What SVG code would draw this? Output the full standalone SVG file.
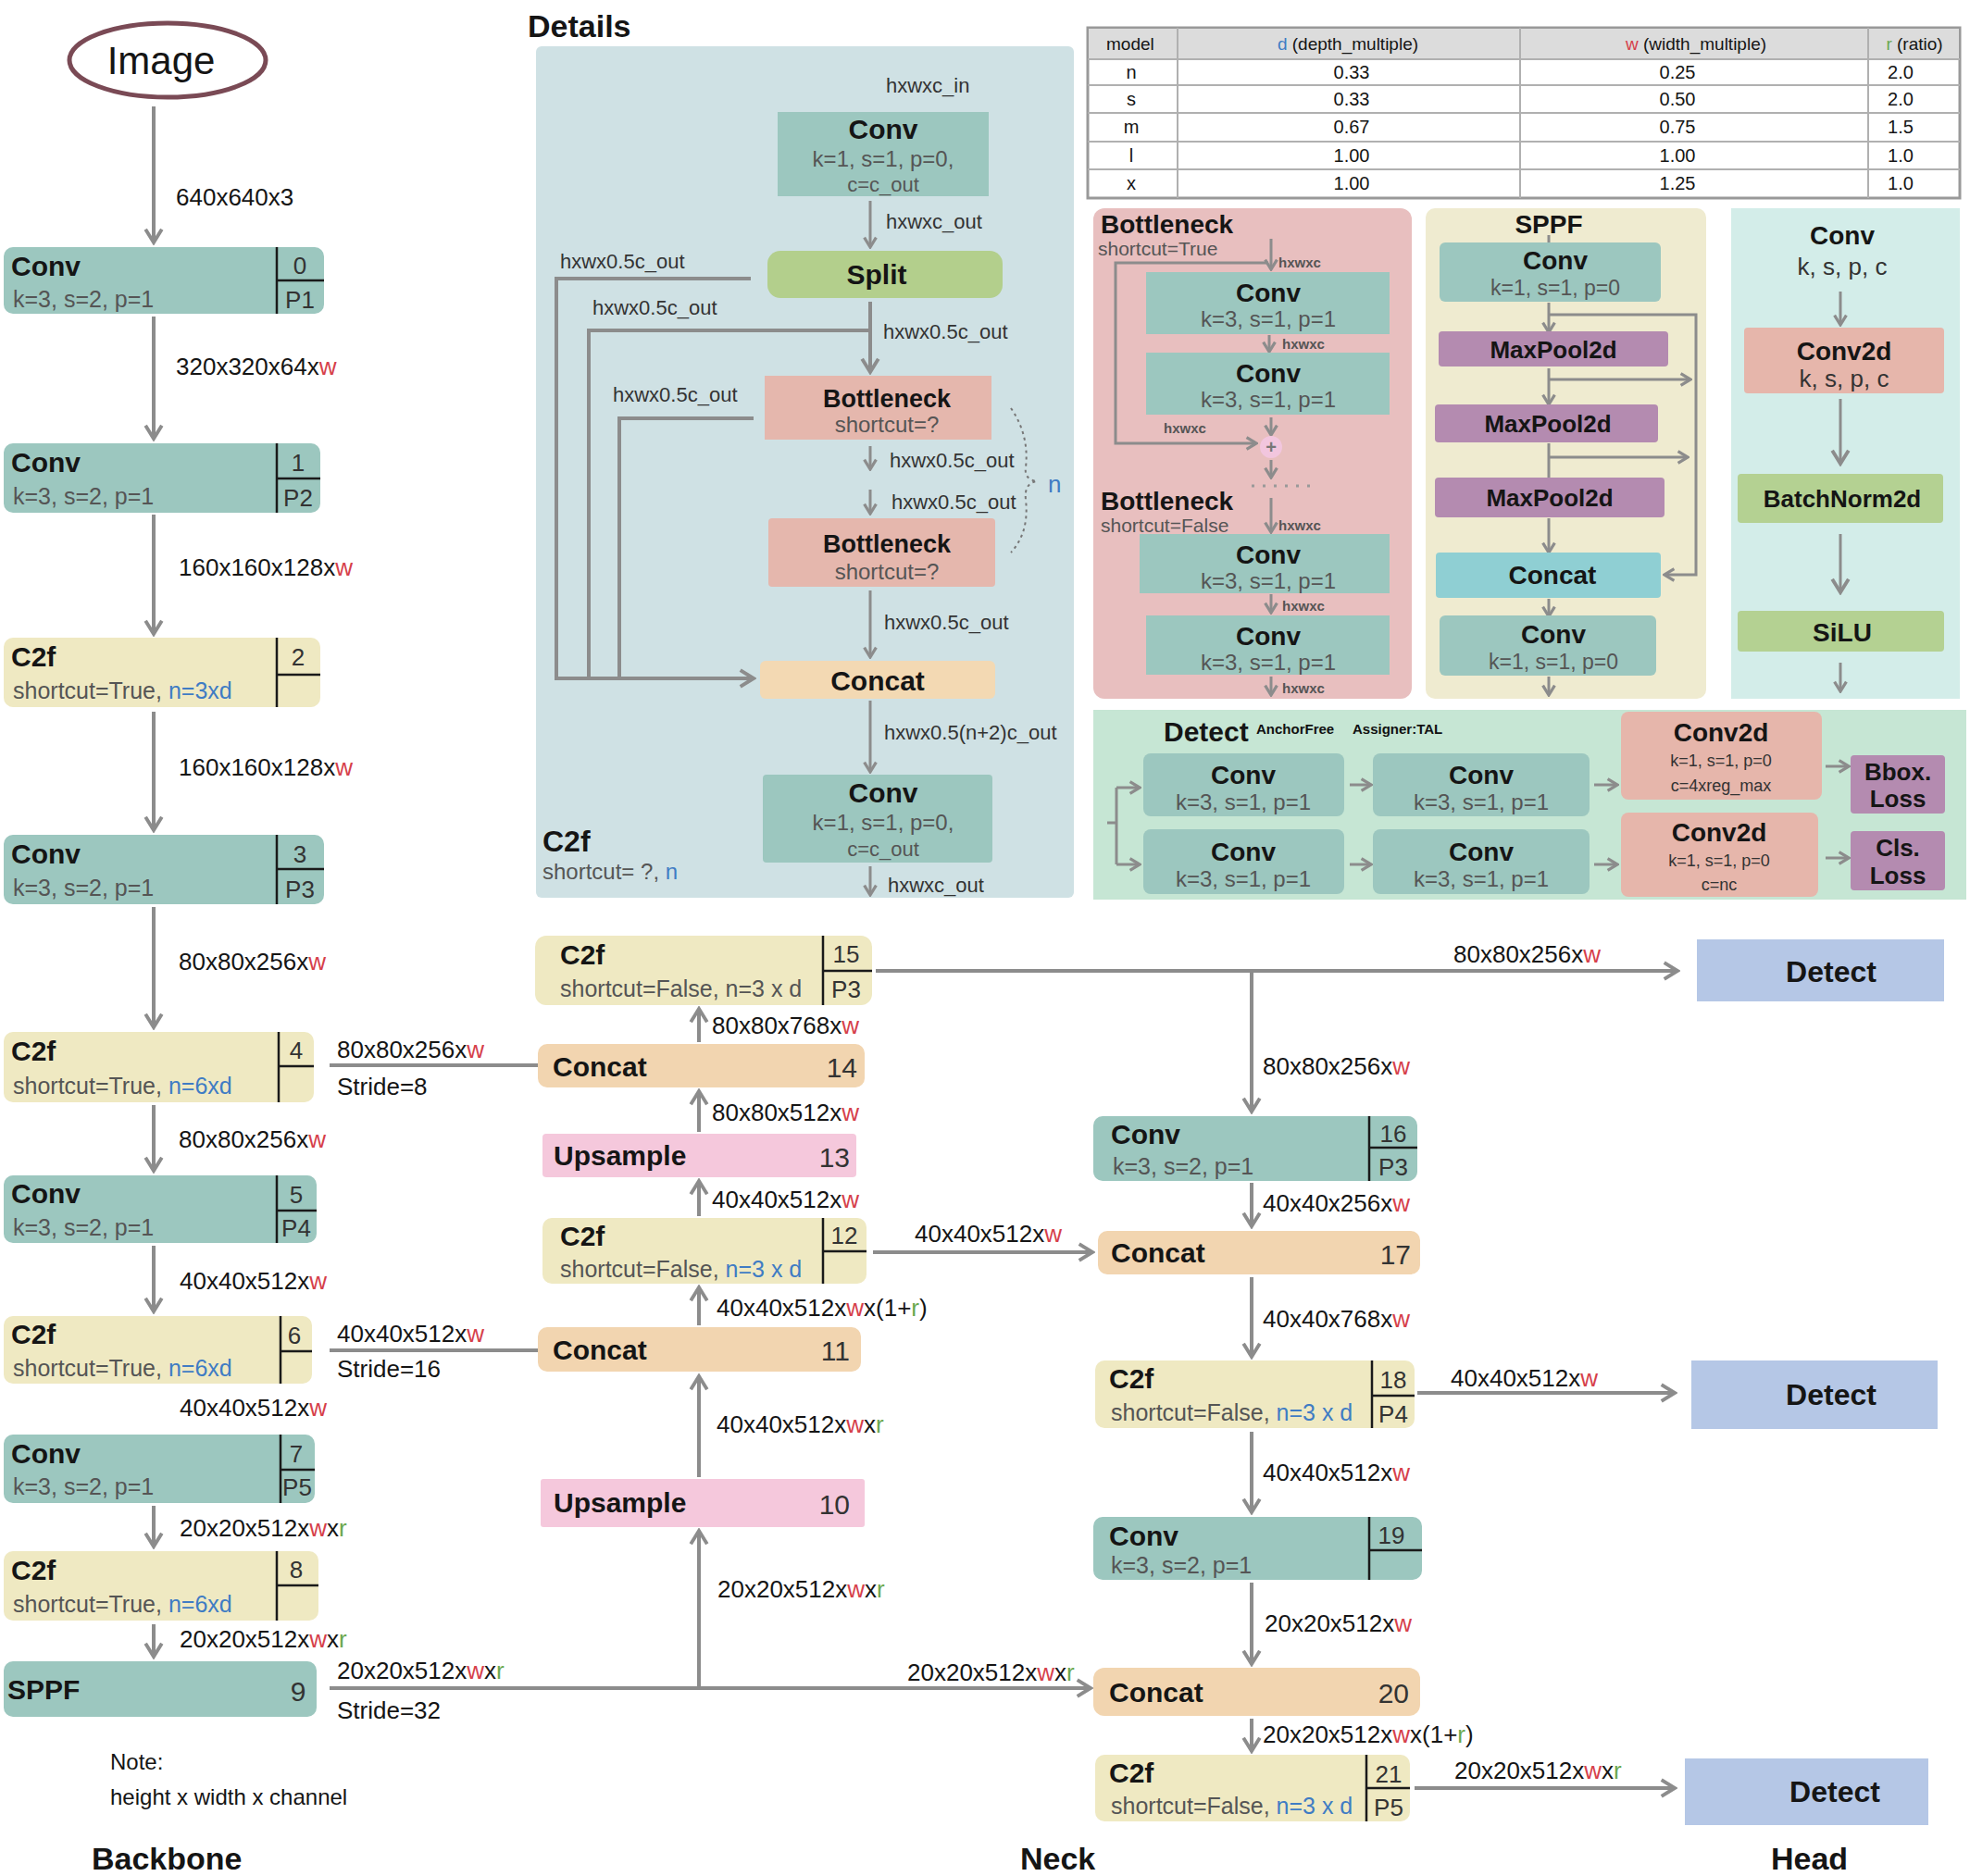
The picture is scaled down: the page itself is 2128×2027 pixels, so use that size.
<svg xmlns="http://www.w3.org/2000/svg" width="2128" height="2027" viewBox="0 0 2128 2027">
<style>
text{font-family:"Liberation Sans",Arial,sans-serif;fill:#151515}
.ti{font-weight:bold;font-size:30px}
.tc{text-anchor:middle}
.pa{fill:#555;font-size:25px}
.ix{fill:#333;font-size:26px;text-anchor:middle}
.ixe{fill:#333;font-size:30px;text-anchor:end}
.lb{font-size:26px}
.dl{font-size:22px;fill:#333}
.sm{font-size:15px;font-weight:bold;fill:#555}
.r{fill:#d6404a}.bl{fill:#3f7cc4}.g{fill:#6aa84f}
.ln{stroke:#8c8c8c;stroke-width:4;fill:none}
.lt{stroke:#8c8c8c;stroke-width:3;fill:none}
.dv{stroke:#1a1a1a;stroke-width:2.5}
.conv{fill:#9cc7bf}.c2f{fill:#efe9c2}.cat{fill:#f2d5b0}.ups{fill:#f5c8dc}.det{fill:#b5c7e6}
.sal{fill:#e6b6ab}.pur{fill:#b48bb0}.grn{fill:#b4d192}
</style>
<defs>
<marker id="ah" viewBox="0 0 20 20" refX="17" refY="10" markerWidth="22" markerHeight="22" markerUnits="userSpaceOnUse" orient="auto">
<path d="M4,2 L17,10 L4,18" fill="none" stroke="#8c8c8c" stroke-width="3.5"/>
</marker>
<marker id="as" viewBox="0 0 20 20" refX="17" refY="10" markerWidth="16" markerHeight="16" markerUnits="userSpaceOnUse" orient="auto">
<path d="M4,2 L17,10 L4,18" fill="none" stroke="#8c8c8c" stroke-width="4"/>
</marker>
</defs>
<rect width="2128" height="2027" fill="#ffffff"/>

<!-- ================= BACKBONE ================= -->
<g id="image">
<ellipse cx="181" cy="65" rx="106" ry="40" fill="none" stroke="#7a4a55" stroke-width="5"/>
<text x="174" y="80" class="tc" style="font-size:42px">Image</text>
</g>

<g id="b0"><rect x="4" y="267" width="346" height="72" rx="10" class="conv"/>
<line x1="299" y1="267" x2="299" y2="339" class="dv"/><line x1="299" y1="303" x2="350" y2="303" class="dv"/>
<text x="12" y="298" class="ti">Conv</text><text x="14" y="332" class="pa">k=3, s=2, p=1</text>
<text x="324" y="296" class="ix">0</text><text x="324" y="333" class="ix">P1</text></g>

<g id="b1"><rect x="4" y="479" width="342" height="75" rx="10" class="conv"/>
<line x1="299" y1="479" x2="299" y2="554" class="dv"/><line x1="299" y1="517" x2="346" y2="517" class="dv"/>
<text x="12" y="510" class="ti">Conv</text><text x="14" y="545" class="pa">k=3, s=2, p=1</text>
<text x="322" y="509" class="ix">1</text><text x="322" y="547" class="ix">P2</text></g>

<g id="b2"><rect x="4" y="689" width="342" height="75" rx="10" class="c2f"/>
<line x1="299" y1="689" x2="299" y2="764" class="dv"/><line x1="299" y1="729" x2="346" y2="729" class="dv"/>
<text x="12" y="720" class="ti">C2f</text><text x="14" y="755" class="pa">shortcut=True, <tspan class="bl">n=3xd</tspan></text>
<text x="322" y="719" class="ix">2</text></g>

<g id="b3"><rect x="4" y="902" width="346" height="75" rx="10" class="conv"/>
<line x1="299" y1="902" x2="299" y2="977" class="dv"/><line x1="299" y1="939" x2="350" y2="939" class="dv"/>
<text x="12" y="933" class="ti">Conv</text><text x="14" y="968" class="pa">k=3, s=2, p=1</text>
<text x="324" y="932" class="ix">3</text><text x="324" y="970" class="ix">P3</text></g>

<g id="b4"><rect x="4" y="1115" width="335" height="76" rx="10" class="c2f"/>
<line x1="301" y1="1115" x2="301" y2="1191" class="dv"/><line x1="301" y1="1152" x2="339" y2="1152" class="dv"/>
<text x="12" y="1146" class="ti">C2f</text><text x="14" y="1182" class="pa">shortcut=True, <tspan class="bl">n=6xd</tspan></text>
<text x="320" y="1144" class="ix">4</text></g>

<g id="b5"><rect x="4" y="1270" width="338" height="73" rx="10" class="conv"/>
<line x1="299" y1="1270" x2="299" y2="1343" class="dv"/><line x1="299" y1="1308" x2="342" y2="1308" class="dv"/>
<text x="12" y="1300" class="ti">Conv</text><text x="14" y="1335" class="pa">k=3, s=2, p=1</text>
<text x="320" y="1300" class="ix">5</text><text x="320" y="1336" class="ix">P4</text></g>

<g id="b6"><rect x="4" y="1422" width="333" height="73" rx="10" class="c2f"/>
<line x1="303" y1="1422" x2="303" y2="1495" class="dv"/><line x1="303" y1="1460" x2="337" y2="1460" class="dv"/>
<text x="12" y="1452" class="ti">C2f</text><text x="14" y="1487" class="pa">shortcut=True, <tspan class="bl">n=6xd</tspan></text>
<text x="318" y="1452" class="ix">6</text></g>

<g id="b7"><rect x="4" y="1550" width="336" height="74" rx="10" class="conv"/>
<line x1="303" y1="1550" x2="303" y2="1624" class="dv"/><line x1="303" y1="1588" x2="340" y2="1588" class="dv"/>
<text x="12" y="1581" class="ti">Conv</text><text x="14" y="1615" class="pa">k=3, s=2, p=1</text>
<text x="320" y="1580" class="ix">7</text><text x="321" y="1616" class="ix">P5</text></g>

<g id="b8"><rect x="4" y="1676" width="340" height="75" rx="10" class="c2f"/>
<line x1="299" y1="1676" x2="299" y2="1751" class="dv"/><line x1="299" y1="1713" x2="344" y2="1713" class="dv"/>
<text x="12" y="1707" class="ti">C2f</text><text x="14" y="1742" class="pa">shortcut=True, <tspan class="bl">n=6xd</tspan></text>
<text x="320" y="1705" class="ix">8</text></g>

<g id="b9"><rect x="4" y="1795" width="338" height="60" rx="10" class="conv"/>
<text x="8" y="1836" class="ti">SPPF</text><text x="322" y="1838" class="ix" style="font-size:30px">9</text></g>

<g id="notes">
<text x="119" y="1912" style="font-size:24px">Note:</text>
<text x="119" y="1950" style="font-size:24px">height x width x channel</text>
<text x="99" y="2020" style="font-size:34px;font-weight:900">Backbone</text>
<text x="1102" y="2020" style="font-size:34px;font-weight:900">Neck</text>
<text x="1913" y="2020" style="font-size:34px;font-weight:900">Head</text>
</g>

<!-- ================= NECK ================= -->
<g id="n15"><rect x="578" y="1011" width="364" height="75" rx="12" class="c2f"/>
<line x1="889" y1="1011" x2="889" y2="1086" class="dv"/><line x1="889" y1="1049" x2="942" y2="1049" class="dv"/>
<text x="605" y="1042" class="ti">C2f</text><text x="605" y="1077" class="pa">shortcut=False, n=3 x d</text>
<text x="914" y="1040" class="ix">15</text><text x="914" y="1078" class="ix">P3</text></g>

<g id="n14"><rect x="581" y="1128" width="353" height="47" rx="10" class="cat"/>
<text x="597" y="1163" class="ti">Concat</text><text x="926" y="1164" class="ixe">14</text></g>

<g id="n13"><rect x="586" y="1225" width="339" height="47" rx="4" class="ups"/>
<text x="598" y="1259" class="ti">Upsample</text><text x="918" y="1261" class="ixe">13</text></g>

<g id="n12"><rect x="586" y="1316" width="350" height="71" rx="10" class="c2f"/>
<line x1="889" y1="1316" x2="889" y2="1387" class="dv"/><line x1="889" y1="1352" x2="936" y2="1352" class="dv"/>
<text x="605" y="1346" class="ti">C2f</text><text x="605" y="1380" class="pa">shortcut=False, <tspan class="bl">n=3 x d</tspan></text>
<text x="912" y="1344" class="ix">12</text></g>

<g id="n11"><rect x="581" y="1434" width="349" height="48" rx="10" class="cat"/>
<text x="597" y="1469" class="ti">Concat</text><text x="918" y="1470" class="ixe">11</text></g>

<g id="n10"><rect x="584" y="1598" width="350" height="52" rx="3" class="ups"/>
<text x="598" y="1634" class="ti">Upsample</text><text x="918" y="1636" class="ixe">10</text></g>

<g id="n16"><rect x="1181" y="1206" width="350" height="70" rx="10" class="conv"/>
<line x1="1479" y1="1206" x2="1479" y2="1276" class="dv"/><line x1="1479" y1="1240" x2="1531" y2="1240" class="dv"/>
<text x="1200" y="1236" class="ti">Conv</text><text x="1202" y="1269" class="pa">k=3, s=2, p=1</text>
<text x="1505" y="1234" class="ix">16</text><text x="1505" y="1270" class="ix">P3</text></g>

<g id="n17"><rect x="1186" y="1330" width="348" height="47" rx="10" class="cat"/>
<text x="1200" y="1364" class="ti">Concat</text><text x="1524" y="1366" class="ixe">17</text></g>

<g id="n18"><rect x="1183" y="1470" width="345" height="73" rx="10" class="c2f"/>
<line x1="1482" y1="1470" x2="1482" y2="1543" class="dv"/><line x1="1482" y1="1508" x2="1528" y2="1508" class="dv"/>
<text x="1198" y="1500" class="ti">C2f</text><text x="1200" y="1535" class="pa">shortcut=False, <tspan class="bl">n=3 x d</tspan></text>
<text x="1505" y="1500" class="ix">18</text><text x="1505" y="1537" class="ix">P4</text></g>

<g id="n19"><rect x="1181" y="1639" width="355" height="68" rx="10" class="conv"/>
<line x1="1479" y1="1639" x2="1479" y2="1707" class="dv"/><line x1="1479" y1="1675" x2="1536" y2="1675" class="dv"/>
<text x="1198" y="1670" class="ti">Conv</text><text x="1200" y="1700" class="pa">k=3, s=2, p=1</text>
<text x="1503" y="1668" class="ix">19</text></g>

<g id="n20"><rect x="1181" y="1802" width="353" height="52" rx="12" class="cat"/>
<text x="1198" y="1839" class="ti">Concat</text><text x="1522" y="1840" class="ixe">20</text></g>

<g id="n21"><rect x="1183" y="1896" width="340" height="72" rx="10" class="c2f"/>
<line x1="1476" y1="1896" x2="1476" y2="1968" class="dv"/><line x1="1476" y1="1932" x2="1523" y2="1932" class="dv"/>
<text x="1198" y="1926" class="ti">C2f</text><text x="1200" y="1960" class="pa">shortcut=False, <tspan class="bl">n=3 x d</tspan></text>
<text x="1500" y="1926" class="ix">21</text><text x="1500" y="1962" class="ix">P5</text></g>

<g id="h1"><rect x="1833" y="1015" width="267" height="67" class="det"/><text x="1978" y="1061" class="ti tc" style="font-size:32px">Detect</text></g>
<g id="h2"><rect x="1827" y="1470" width="266" height="74" class="det"/><text x="1978" y="1518" class="ti tc" style="font-size:32px">Detect</text></g>
<g id="h3"><rect x="1820" y="1900" width="263" height="72" class="det"/><text x="1982" y="1947" class="ti tc" style="font-size:32px">Detect</text></g>

<!-- ================= CONNECTORS ================= -->
<g id="connectors">
<line x1="166" y1="115" x2="166" y2="262" class="ln" marker-end="url(#ah)"/>
<line x1="166" y1="342" x2="166" y2="474" class="ln" marker-end="url(#ah)"/>
<line x1="166" y1="556" x2="166" y2="685" class="ln" marker-end="url(#ah)"/>
<line x1="166" y1="769" x2="166" y2="897" class="ln" marker-end="url(#ah)"/>
<line x1="166" y1="980" x2="166" y2="1110" class="ln" marker-end="url(#ah)"/>
<line x1="166" y1="1194" x2="166" y2="1265" class="ln" marker-end="url(#ah)"/>
<line x1="166" y1="1346" x2="166" y2="1417" class="ln" marker-end="url(#ah)"/>
<line x1="166" y1="1627" x2="166" y2="1671" class="ln" marker-end="url(#ah)"/>
<line x1="166" y1="1755" x2="166" y2="1790" class="ln" marker-end="url(#ah)"/>
<line x1="356" y1="1151" x2="581" y2="1151" class="ln"/>
<line x1="356" y1="1459" x2="581" y2="1459" class="ln"/>
<line x1="356" y1="1824" x2="1178" y2="1824" class="ln" marker-end="url(#ah)"/>
<line x1="755" y1="1824" x2="755" y2="1654" class="ln" marker-end="url(#ah)"/>
<line x1="755" y1="1596" x2="755" y2="1487" class="ln" marker-end="url(#ah)"/>
<line x1="755" y1="1432" x2="755" y2="1391" class="ln" marker-end="url(#ah)"/>
<line x1="755" y1="1314" x2="755" y2="1276" class="ln" marker-end="url(#ah)"/>
<line x1="755" y1="1223" x2="755" y2="1179" class="ln" marker-end="url(#ah)"/>
<line x1="755" y1="1126" x2="755" y2="1090" class="ln" marker-end="url(#ah)"/>
<line x1="946" y1="1049" x2="1812" y2="1049" class="ln" marker-end="url(#ah)"/>
<line x1="1352" y1="1049" x2="1352" y2="1201" class="ln" marker-end="url(#ah)"/>
<line x1="943" y1="1353" x2="1180" y2="1353" class="ln" marker-end="url(#ah)"/>
<line x1="1352" y1="1278" x2="1352" y2="1325" class="ln" marker-end="url(#ah)"/>
<line x1="1352" y1="1380" x2="1352" y2="1466" class="ln" marker-end="url(#ah)"/>
<line x1="1531" y1="1505" x2="1809" y2="1505" class="ln" marker-end="url(#ah)"/>
<line x1="1352" y1="1547" x2="1352" y2="1634" class="ln" marker-end="url(#ah)"/>
<line x1="1352" y1="1710" x2="1352" y2="1798" class="ln" marker-end="url(#ah)"/>
<line x1="1352" y1="1857" x2="1352" y2="1892" class="ln" marker-end="url(#ah)"/>
<line x1="1528" y1="1932" x2="1809" y2="1932" class="ln" marker-end="url(#ah)"/>
</g>

<g id="edge-labels" class="lb">
<text x="190" y="222" class="lb">640x640x3</text>
<text x="190" y="405" class="lb">320x320x64x<tspan class="r">w</tspan></text>
<text x="193" y="622" class="lb">160x160x128x<tspan class="r">w</tspan></text>
<text x="193" y="838" class="lb">160x160x128x<tspan class="r">w</tspan></text>
<text x="193" y="1048" class="lb">80x80x256x<tspan class="r">w</tspan></text>
<text x="193" y="1240" class="lb">80x80x256x<tspan class="r">w</tspan></text>
<text x="194" y="1393" class="lb">40x40x512x<tspan class="r">w</tspan></text>
<text x="194" y="1530" class="lb">40x40x512x<tspan class="r">w</tspan></text>
<text x="194" y="1660" class="lb">20x20x512x<tspan class="r">w</tspan>x<tspan class="g">r</tspan></text>
<text x="194" y="1780" class="lb">20x20x512x<tspan class="r">w</tspan>x<tspan class="g">r</tspan></text>
<text x="364" y="1143" class="lb">80x80x256x<tspan class="r">w</tspan></text>
<text x="364" y="1183" class="lb">Stride=8</text>
<text x="364" y="1450" class="lb">40x40x512x<tspan class="r">w</tspan></text>
<text x="364" y="1488" class="lb">Stride=16</text>
<text x="364" y="1814" class="lb">20x20x512x<tspan class="r">w</tspan>x<tspan class="g">r</tspan></text>
<text x="364" y="1857" class="lb">Stride=32</text>
<text x="980" y="1816" class="lb">20x20x512x<tspan class="r">w</tspan>x<tspan class="g">r</tspan></text>
<text x="775" y="1726" class="lb">20x20x512x<tspan class="r">w</tspan>x<tspan class="g">r</tspan></text>
<text x="774" y="1548" class="lb">40x40x512x<tspan class="r">w</tspan>x<tspan class="g">r</tspan></text>
<text x="774" y="1422" class="lb">40x40x512x<tspan class="r">w</tspan>x(1+<tspan class="g">r</tspan>)</text>
<text x="769" y="1305" class="lb">40x40x512x<tspan class="r">w</tspan></text>
<text x="769" y="1211" class="lb">80x80x512x<tspan class="r">w</tspan></text>
<text x="769" y="1117" class="lb">80x80x768x<tspan class="r">w</tspan></text>
<text x="1570" y="1040" class="lb">80x80x256x<tspan class="r">w</tspan></text>
<text x="1364" y="1161" class="lb">80x80x256x<tspan class="r">w</tspan></text>
<text x="988" y="1342" class="lb">40x40x512x<tspan class="r">w</tspan></text>
<text x="1364" y="1309" class="lb">40x40x256x<tspan class="r">w</tspan></text>
<text x="1364" y="1434" class="lb">40x40x768x<tspan class="r">w</tspan></text>
<text x="1567" y="1498" class="lb">40x40x512x<tspan class="r">w</tspan></text>
<text x="1364" y="1600" class="lb">40x40x512x<tspan class="r">w</tspan></text>
<text x="1366" y="1763" class="lb">20x20x512x<tspan class="r">w</tspan></text>
<text x="1364" y="1883" class="lb">20x20x512x<tspan class="r">w</tspan>x(1+<tspan class="g">r</tspan>)</text>
<text x="1571" y="1922" class="lb">20x20x512x<tspan class="r">w</tspan>x<tspan class="g">r</tspan></text>
</g>

<!-- ================= DETAILS: C2f ================= -->
<g id="details-c2f">
<text x="570" y="40" style="font-size:34px;font-weight:bold">Details</text>
<rect x="579" y="50" width="581" height="920" rx="6" fill="#cfe1e4"/>
<text x="957" y="100" class="dl">hxwxc_in</text>
<rect x="840" y="121" width="228" height="91" class="conv"/>
<text x="954" y="150" class="ti tc">Conv</text>
<text x="954" y="180" class="tc" style="font-size:24px;fill:#555">k=1, s=1, p=0,</text>
<text x="954" y="207" class="tc" style="font-size:22px;fill:#555">c=c_out</text>
<line x1="940" y1="217" x2="940" y2="267" class="lt" marker-end="url(#as)"/>
<text x="957" y="247" class="dl">hxwxc_out</text>
<rect x="829" y="271" width="254" height="51" rx="14" fill="#b3cf8c"/>
<text x="947" y="307" class="ti tc">Split</text>
<path d="M811,301 H601 V733 H814" class="ln" marker-end="url(#ah)"/>
<text x="605" y="290" class="dl">hxwx0.5c_out</text>
<path d="M940,357 H636 V733" class="ln"/>
<text x="640" y="340" class="dl">hxwx0.5c_out</text>
<line x1="940" y1="326" x2="940" y2="402" class="ln" marker-end="url(#ah)"/>
<text x="954" y="366" class="dl">hxwx0.5c_out</text>
<rect x="826" y="406" width="245" height="69" fill="#e5b7ad"/>
<text x="958" y="440" class="ti tc" style="font-size:27px">Bottleneck</text>
<text x="958" y="467" class="tc" style="font-size:24px;fill:#555">shortcut=?</text>
<path d="M814,452 H669 V733" class="ln"/>
<text x="662" y="434" class="dl">hxwx0.5c_out</text>
<line x1="940" y1="482" x2="940" y2="507" class="lt" marker-end="url(#as)"/>
<text x="961" y="505" class="dl">hxwx0.5c_out</text>
<line x1="940" y1="529" x2="940" y2="555" class="lt" marker-end="url(#as)"/>
<text x="963" y="550" class="dl">hxwx0.5c_out</text>
<path d="M1092,441 Q1112,470 1108,505 Q1106,518 1120,520 Q1106,522 1108,540 Q1112,575 1092,597" fill="none" stroke="#777" stroke-width="2" stroke-dasharray="3,4"/>
<text x="1132" y="532" class="bl" style="font-size:26px">n</text>
<rect x="830" y="560" width="245" height="74" rx="4" fill="#e5b7ad"/>
<text x="958" y="597" class="ti tc" style="font-size:27px">Bottleneck</text>
<text x="958" y="626" class="tc" style="font-size:24px;fill:#555">shortcut=?</text>
<line x1="940" y1="638" x2="940" y2="710" class="lt" marker-end="url(#as)"/>
<text x="955" y="680" class="dl">hxwx0.5c_out</text>
<rect x="821" y="714" width="254" height="41" rx="6" fill="#f3d9b3"/>
<text x="948" y="746" class="ti tc">Concat</text>
<line x1="940" y1="757" x2="940" y2="834" class="lt" marker-end="url(#as)"/>
<text x="955" y="799" class="dl">hxwx0.5(n+2)c_out</text>
<rect x="824" y="837" width="248" height="95" rx="4" class="conv"/>
<text x="954" y="867" class="ti tc">Conv</text>
<text x="954" y="897" class="tc" style="font-size:24px;fill:#555">k=1, s=1, p=0,</text>
<text x="954" y="925" class="tc" style="font-size:22px;fill:#555">c=c_out</text>
<line x1="940" y1="936" x2="940" y2="967" class="lt" marker-end="url(#as)"/>
<text x="959" y="964" class="dl">hxwxc_out</text>
<text x="586" y="920" class="ti" style="font-size:32px">C2f</text>
<text x="586" y="950" style="font-size:24px;fill:#555">shortcut= ?, <tspan class="bl">n</tspan></text>
</g>

<!-- ================= TABLE ================= -->
<g id="table">
<rect x="1175" y="30" width="942" height="184" fill="#fff" stroke="#999" stroke-width="3"/>
<rect x="1176" y="31" width="940" height="33" fill="#dcdcdc"/>
<g stroke="#b0b0b0" stroke-width="2">
<line x1="1175" y1="64" x2="2117" y2="64"/><line x1="1175" y1="92" x2="2117" y2="92"/>
<line x1="1175" y1="122" x2="2117" y2="122"/><line x1="1175" y1="153" x2="2117" y2="153"/>
<line x1="1175" y1="183" x2="2117" y2="183"/>
<line x1="1272" y1="30" x2="1272" y2="214"/><line x1="1642" y1="30" x2="1642" y2="214"/>
<line x1="2018" y1="30" x2="2018" y2="214"/>
</g>
<g>
<text x="1195" y="54" style="font-size:19px">model</text>
<text x="1456" y="54" class="tc" style="font-size:19px"><tspan class="bl">d</tspan> (depth_multiple)</text>
<text x="1832" y="54" class="tc" style="font-size:19px"><tspan class="r">w</tspan> (width_multiple)</text>
<text x="2068" y="54" class="tc" style="font-size:19px"><tspan class="g">r</tspan> (ratio)</text>
</g>
<g fill="#333">
<text x="1222" y="85" class="tc" style="font-size:20px">n</text><text x="1460" y="85" class="tc" style="font-size:20px">0.33</text><text x="1812" y="85" class="tc" style="font-size:20px">0.25</text><text x="2053" y="85" class="tc" style="font-size:20px">2.0</text>
<text x="1222" y="114" class="tc" style="font-size:20px">s</text><text x="1460" y="114" class="tc" style="font-size:20px">0.33</text><text x="1812" y="114" class="tc" style="font-size:20px">0.50</text><text x="2053" y="114" class="tc" style="font-size:20px">2.0</text>
<text x="1222" y="144" class="tc" style="font-size:20px">m</text><text x="1460" y="144" class="tc" style="font-size:20px">0.67</text><text x="1812" y="144" class="tc" style="font-size:20px">0.75</text><text x="2053" y="144" class="tc" style="font-size:20px">1.5</text>
<text x="1222" y="175" class="tc" style="font-size:20px">l</text><text x="1460" y="175" class="tc" style="font-size:20px">1.00</text><text x="1812" y="175" class="tc" style="font-size:20px">1.00</text><text x="2053" y="175" class="tc" style="font-size:20px">1.0</text>
<text x="1222" y="205" class="tc" style="font-size:20px">x</text><text x="1460" y="205" class="tc" style="font-size:20px">1.00</text><text x="1812" y="205" class="tc" style="font-size:20px">1.25</text><text x="2053" y="205" class="tc" style="font-size:20px">1.0</text>
</g>
</g>

<!-- ================= BOTTLENECK DETAIL ================= -->
<g id="details-bottleneck">
<rect x="1181" y="225" width="344" height="530" rx="12" fill="#e8bfbf"/>
<text x="1189" y="252" class="ti" style="font-size:28px">Bottleneck</text>
<text x="1186" y="276" style="font-size:21px;fill:#555">shortcut=True</text>
<line x1="1373" y1="258" x2="1373" y2="291" class="lt" marker-end="url(#as)"/>
<text x="1381" y="289" class="sm">hxwxc</text>
<path d="M1370,284 H1205 V479 H1357" class="lt" marker-end="url(#as)"/>
<rect x="1238" y="294" width="263" height="67" class="conv"/>
<text x="1370" y="326" class="ti tc" style="font-size:28px">Conv</text>
<text x="1370" y="353" class="tc" style="font-size:24px;fill:#555">k=3, s=1, p=1</text>
<line x1="1371" y1="362" x2="1371" y2="380" class="lt" marker-end="url(#as)"/>
<text x="1385" y="377" class="sm">hxwxc</text>
<rect x="1238" y="381" width="263" height="67" class="conv"/>
<text x="1370" y="413" class="ti tc" style="font-size:28px">Conv</text>
<text x="1370" y="440" class="tc" style="font-size:24px;fill:#555">k=3, s=1, p=1</text>
<line x1="1373" y1="451" x2="1373" y2="470" class="lt" marker-end="url(#as)"/>
<text x="1257" y="468" class="sm">hxwxc</text>
<circle cx="1373" cy="483" r="12" fill="#f2c6de"/>
<text x="1373" y="490" class="tc" style="font-size:20px;font-weight:bold;fill:#777">+</text>
<line x1="1373" y1="497" x2="1373" y2="516" class="lt" marker-end="url(#as)"/>
<line x1="1352" y1="525" x2="1422" y2="525" stroke="#999" stroke-width="3" stroke-dasharray="3,9"/>
<text x="1189" y="551" class="ti" style="font-size:28px">Bottleneck</text>
<text x="1189" y="575" style="font-size:21px;fill:#555">shortcut=False</text>
<line x1="1373" y1="538" x2="1373" y2="575" class="lt" marker-end="url(#as)"/>
<text x="1381" y="573" class="sm">hxwxc</text>
<rect x="1231" y="577" width="270" height="64" class="conv"/>
<text x="1370" y="609" class="ti tc" style="font-size:28px">Conv</text>
<text x="1370" y="636" class="tc" style="font-size:24px;fill:#555">k=3, s=1, p=1</text>
<line x1="1373" y1="642" x2="1373" y2="662" class="lt" marker-end="url(#as)"/>
<text x="1385" y="660" class="sm">hxwxc</text>
<rect x="1238" y="665" width="263" height="64" class="conv"/>
<text x="1370" y="697" class="ti tc" style="font-size:28px">Conv</text>
<text x="1370" y="724" class="tc" style="font-size:24px;fill:#555">k=3, s=1, p=1</text>
<line x1="1373" y1="731" x2="1373" y2="751" class="lt" marker-end="url(#as)"/>
<text x="1385" y="749" class="sm">hxwxc</text>
</g>

<!-- ================= SPPF DETAIL ================= -->
<g id="details-sppf">
<rect x="1540" y="225" width="303" height="530" rx="10" fill="#efebd0"/>
<text x="1673" y="252" class="ti tc" style="font-size:28px">SPPF</text>
<line x1="1673" y1="254" x2="1673" y2="262" class="lt"/>
<rect x="1555" y="262" width="239" height="64" rx="6" class="conv"/>
<text x="1680" y="291" class="ti tc" style="font-size:28px">Conv</text>
<text x="1680" y="319" class="tc" style="font-size:23px;fill:#555">k=1, s=1, p=0</text>
<line x1="1673" y1="327" x2="1673" y2="359" class="lt" marker-end="url(#as)"/>
<path d="M1673,340 H1832 V621 H1798" class="lt" marker-end="url(#as)"/>
<rect x="1554" y="358" width="248" height="38" rx="4" class="pur"/>
<text x="1678" y="387" class="ti tc" style="font-size:26px">MaxPool2d</text>
<line x1="1673" y1="398" x2="1673" y2="437" class="lt" marker-end="url(#as)"/>
<path d="M1673,410 H1826" class="lt" marker-end="url(#as)"/>
<rect x="1550" y="437" width="241" height="41" rx="4" class="pur"/>
<text x="1672" y="467" class="ti tc" style="font-size:26px">MaxPool2d</text>
<line x1="1673" y1="479" x2="1673" y2="516" class="lt"/>
<path d="M1673,494 H1823" class="lt" marker-end="url(#as)"/>
<rect x="1550" y="516" width="248" height="43" rx="4" class="pur"/>
<text x="1674" y="547" class="ti tc" style="font-size:26px">MaxPool2d</text>
<line x1="1673" y1="560" x2="1673" y2="597" class="lt" marker-end="url(#as)"/>
<rect x="1551" y="597" width="243" height="49" rx="4" fill="#8fcfd3"/>
<text x="1677" y="631" class="ti tc" style="font-size:28px">Concat</text>
<line x1="1673" y1="647" x2="1673" y2="666" class="lt" marker-end="url(#as)"/>
<rect x="1555" y="665" width="234" height="65" rx="6" class="conv"/>
<text x="1678" y="695" class="ti tc" style="font-size:28px">Conv</text>
<text x="1678" y="723" class="tc" style="font-size:23px;fill:#555">k=1, s=1, p=0</text>
<line x1="1673" y1="731" x2="1673" y2="751" class="lt" marker-end="url(#as)"/>
</g>

<!-- ================= CONV DETAIL ================= -->
<g id="details-conv">
<rect x="1870" y="225" width="247" height="530" fill="#d3ede9"/>
<text x="1990" y="264" class="ti tc" style="font-size:28px">Conv</text>
<text x="1990" y="297" class="tc" style="font-size:26px;fill:#333">k, s, p, c</text>
<line x1="1988" y1="315" x2="1988" y2="351" class="lt" marker-end="url(#as)"/>
<rect x="1884" y="354" width="216" height="71" rx="4" class="sal"/>
<text x="1992" y="389" class="ti tc" style="font-size:28px">Conv2d</text>
<text x="1992" y="418" class="tc" style="font-size:26px;fill:#333">k, s, p, c</text>
<line x1="1988" y1="431" x2="1988" y2="501" class="lt" marker-end="url(#ah)"/>
<rect x="1877" y="512" width="222" height="53" rx="4" class="grn"/>
<text x="1990" y="548" class="ti tc" style="font-size:26px">BatchNorm2d</text>
<line x1="1988" y1="577" x2="1988" y2="640" class="lt" marker-end="url(#ah)"/>
<rect x="1877" y="660" width="223" height="44" rx="4" class="grn"/>
<text x="1990" y="693" class="ti tc" style="font-size:28px">SiLU</text>
<line x1="1988" y1="716" x2="1988" y2="747" class="lt" marker-end="url(#as)"/>
</g>

<!-- ================= DETECT DETAIL ================= -->
<g id="details-detect">
<rect x="1181" y="767" width="943" height="205" fill="#c6e6d4"/>
<text x="1257" y="801" class="ti">Detect</text>
<text x="1357" y="793" class="sm" style="fill:#111">AnchorFree</text>
<text x="1461" y="793" class="sm" style="fill:#111">Assigner:TAL</text>
<path d="M1206,851 V934 M1196,889 H1206" class="lt"/>
<path d="M1206,851 H1231" class="lt" marker-end="url(#as)"/>
<path d="M1206,934 H1231" class="lt" marker-end="url(#as)"/>
<rect x="1235" y="814" width="217" height="68" rx="8" class="conv"/>
<text x="1343" y="847" class="ti tc" style="font-size:28px">Conv</text>
<text x="1343" y="875" class="tc" style="font-size:24px;fill:#555">k=3, s=1, p=1</text>
<rect x="1483" y="814" width="234" height="68" rx="8" class="conv"/>
<text x="1600" y="847" class="ti tc" style="font-size:28px">Conv</text>
<text x="1600" y="875" class="tc" style="font-size:24px;fill:#555">k=3, s=1, p=1</text>
<rect x="1235" y="896" width="217" height="70" rx="8" class="conv"/>
<text x="1343" y="930" class="ti tc" style="font-size:28px">Conv</text>
<text x="1343" y="958" class="tc" style="font-size:24px;fill:#555">k=3, s=1, p=1</text>
<rect x="1483" y="896" width="234" height="70" rx="8" class="conv"/>
<text x="1600" y="930" class="ti tc" style="font-size:28px">Conv</text>
<text x="1600" y="958" class="tc" style="font-size:24px;fill:#555">k=3, s=1, p=1</text>
<path d="M1458,848 H1481" class="lt" marker-end="url(#as)"/>
<path d="M1458,934 H1481" class="lt" marker-end="url(#as)"/>
<path d="M1722,848 H1747" class="lt" marker-end="url(#as)"/>
<path d="M1722,934 H1747" class="lt" marker-end="url(#as)"/>
<rect x="1751" y="769" width="217" height="95" rx="8" class="sal"/>
<text x="1859" y="801" class="ti tc" style="font-size:28px">Conv2d</text>
<text x="1859" y="828" class="tc" style="font-size:18px;fill:#333">k=1, s=1, p=0</text>
<text x="1859" y="855" class="tc" style="font-size:18px;fill:#333">c=4xreg_max</text>
<rect x="1751" y="878" width="213" height="91" rx="8" class="sal"/>
<text x="1857" y="909" class="ti tc" style="font-size:28px">Conv2d</text>
<text x="1857" y="936" class="tc" style="font-size:18px;fill:#333">k=1, s=1, p=0</text>
<text x="1857" y="962" class="tc" style="font-size:18px;fill:#333">c=nc</text>
<path d="M1972,828 H1997" class="lt" marker-end="url(#as)"/>
<path d="M1972,927 H1997" class="lt" marker-end="url(#as)"/>
<rect x="1999" y="816" width="102" height="63" rx="4" class="pur"/>
<text x="2050" y="843" class="ti tc" style="font-size:26px">Bbox.</text>
<text x="2050" y="872" class="ti tc" style="font-size:26px">Loss</text>
<rect x="1999" y="898" width="102" height="64" rx="4" class="pur"/>
<text x="2050" y="925" class="ti tc" style="font-size:26px">Cls.</text>
<text x="2050" y="955" class="ti tc" style="font-size:26px">Loss</text>
</g>
</svg>
